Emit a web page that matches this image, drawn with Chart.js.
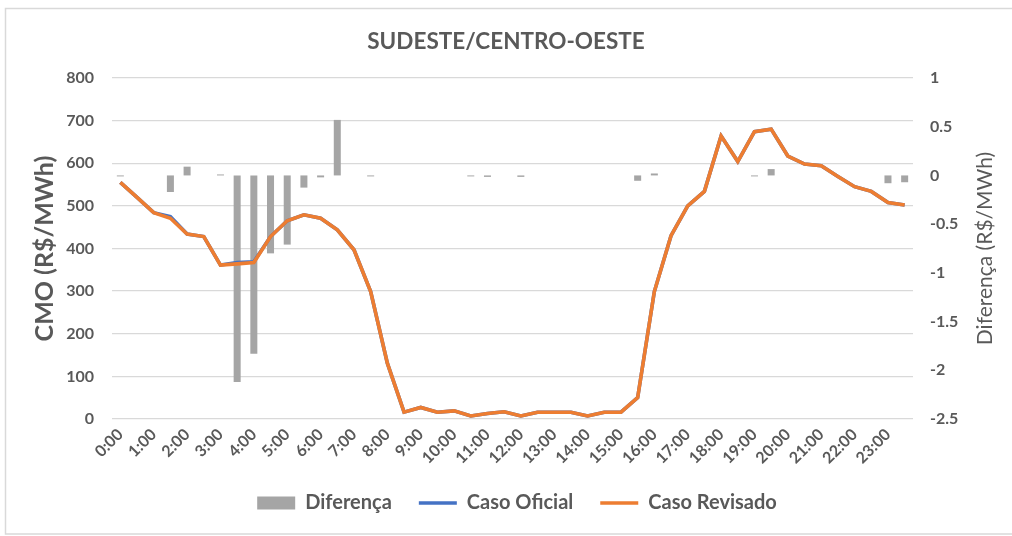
<!DOCTYPE html>
<html>
<head>
<meta charset="utf-8">
<script src="https://cdn.jsdelivr.net/npm/chart.js@4"></script>
<style>
html,body{margin:0;padding:0;background:#fff;}
#wrap{width:1012px;height:536px;position:relative;}
</style>
</head>
<body>
<div id="wrap"><canvas id="c" width="1012" height="536"></canvas></div>
<script>
const categories = ["0:00","0:30","1:00","1:30","2:00","2:30","3:00","3:30","4:00","4:30","5:00","5:30","6:00","6:30","7:00","7:30","8:00","8:30","9:00","9:30","10:00","10:30","11:00","11:30","12:00","12:30","13:00","13:30","14:00","14:30","15:00","15:30","16:00","16:30","17:00","17:30","18:00","18:30","19:00","19:30","20:00","20:30","21:00","21:30","22:00","22:30","23:00","23:30"];

const casoRevisado = [555,520,484,471,434,428,361,364,367,428,465,479,471,444,397,299,131,16,27,16,19,7,13,17,7,16,16,16,7,16,16,50,299,430,500,534,664,604,674,680,617,598,594,569,545,534,508,502];

const casoOficial = [555,520,484,475,434,428,361,367,369,428,465,479,471,444,397,299,131,16,27,16,19,7,13,17,7,16,16,16,7,16,16,50,299,430,500,534,664,604,674,680,617,598,594,569,545,534,508,502];

const diferenca = [-0.01,0,0,-0.17,0.09,0,0.01,-2.12,-1.83,-0.80,-0.71,-0.125,-0.02,0.57,0,-0.01,0,0,0,0,0,-0.01,-0.015,0,-0.015,0,0,0,0,0,0,-0.055,0.02,0,0,0,0,0,-0.01,0.065,0,0,0,0,0,0,-0.08,-0.07];

const leftTicks = [0,100,200,300,400,500,600,700,800];
const rightTicks = [-2.5,-2,-1.5,-1,-0.5,0,0.5,1];
const rightTitle = 'Diferença (R$/MWh)';

const TXT = '#595959';
Chart.defaults.font.family = 'Lato';
Chart.defaults.color = TXT;

const frame = {
  id: 'frame',
  beforeDraw(chart) {
    const ctx = chart.ctx;
    ctx.save();
    ctx.strokeStyle = '#d9d9d9';
    ctx.lineWidth = 1.5;
    ctx.strokeRect(5.5, 8.5, 1020, 525.5);
    ctx.restore();
  },
  afterLayout(chart) {
    if (chart.legend) { chart.legend.left += 11; chart.legend.right += 11; }
  },
  afterDraw(chart) {
    const ctx = chart.ctx;
    const a = chart.chartArea;
    ctx.save();
    ctx.fillStyle = TXT;
    ctx.font = 'normal 21px Lato';
    ctx.textAlign = 'center';
    ctx.textBaseline = 'middle';
    ctx.translate(985, (a.top + a.bottom) / 2);
    ctx.rotate(-Math.PI / 2);
    ctx.fillText(rightTitle, 0, 0);
    ctx.restore();
  }
};

new Chart(document.getElementById('c'), {
  data: {
    labels: categories,
    datasets: [
      {
        type: 'bar', label: 'Diferença', data: diferenca, yAxisID: 'y1',
        backgroundColor: '#a5a5a5', borderWidth: 0,
        barPercentage: 0.42, categoryPercentage: 1.0, order: 3
      },
      {
        type: 'line', label: 'Caso Oficial', data: casoOficial, yAxisID: 'y',
        borderColor: '#4472c4', backgroundColor: '#4472c4', borderWidth: 3.6,
        pointRadius: 0, tension: 0, order: 2
      },
      {
        type: 'line', label: 'Caso Revisado', data: casoRevisado, yAxisID: 'y',
        borderColor: '#ed7d31', backgroundColor: '#ed7d31', borderWidth: 3.6,
        pointRadius: 0, tension: 0, order: 1
      }
    ]
  },
  options: {
    responsive: false,
    animation: false,
    layout: { padding: { left: 0, right: 0, top: 0, bottom: 13 } },
    plugins: {
      title: {
        display: true, text: 'SUDESTE/CENTRO-OESTE', color: TXT,
        font: { size: 22.5, weight: 'bold', family: 'Lato' },
        padding: { top: 28, bottom: 23 }
      },
      legend: {
        position: 'bottom',
        labels: {
          usePointStyle: true, pointStyleWidth: 38, boxHeight: 13,
          padding: 27, color: TXT,
          font: { size: 20, weight: 'bold', family: 'Lato' },
          sort: (a, b) => a.datasetIndex - b.datasetIndex,
          generateLabels(chart) {
            const items = Chart.defaults.plugins.legend.labels.generateLabels(chart);
            items.forEach(it => {
              const ds = chart.data.datasets[it.datasetIndex];
              it.pointStyle = ds.type === 'bar' ? 'rect' : 'line';
              if (ds.type !== 'bar') { it.strokeStyle = ds.borderColor; it.lineWidth = 3.6; }
              else { it.lineWidth = 0; it.strokeStyle = ds.backgroundColor; }
            });
            return items;
          }
        }
      },
      tooltip: { enabled: false }
    },
    scales: {
      x: {
        type: 'category', offset: true,
        grid: { display: false, drawTicks: false },
        border: { display: false },
        ticks: {
          autoSkip: false, minRotation: 45, maxRotation: 45, padding: 6,
          color: TXT, font: { size: 16, weight: 'bold', family: 'Lato' },
          callback(v, i) { return i % 2 === 0 ? categories[i] : ''; }
        },
        afterFit(s) { s.height = 47; }
      },
      y: {
        position: 'left', min: 0, max: 800,
        afterBuildTicks(s) { s.ticks = leftTicks.map(v => ({ value: v })); },
        grid: { color: '#d9d9d9', lineWidth: 1.3, drawTicks: false },
        border: { display: false },
        ticks: { padding: 18, color: TXT, font: { size: 16, weight: 'bold', family: 'Lato' } },
        title: {
          display: true, text: 'CMO (R$/MWh)', color: TXT,
          font: { size: 25, weight: 'bold', family: 'Lato' },
          padding: { top: 30, bottom: 0 }
        },
        afterFit(s) { s.width = 112; }
      },
      y1: {
        position: 'right', min: -2.5, max: 1,
        afterBuildTicks(s) { s.ticks = rightTicks.map(v => ({ value: v })); },
        grid: { display: false, drawTicks: false },
        border: { display: false },
        ticks: {
          padding: 17, color: TXT, font: { size: 16, weight: 'bold', family: 'Lato' },
          callback(v) { return String(v); }
        },
        afterFit(s) { s.width = 99; }
      }
    }
  },
  plugins: [frame]
});
</script>
</body>
</html>
